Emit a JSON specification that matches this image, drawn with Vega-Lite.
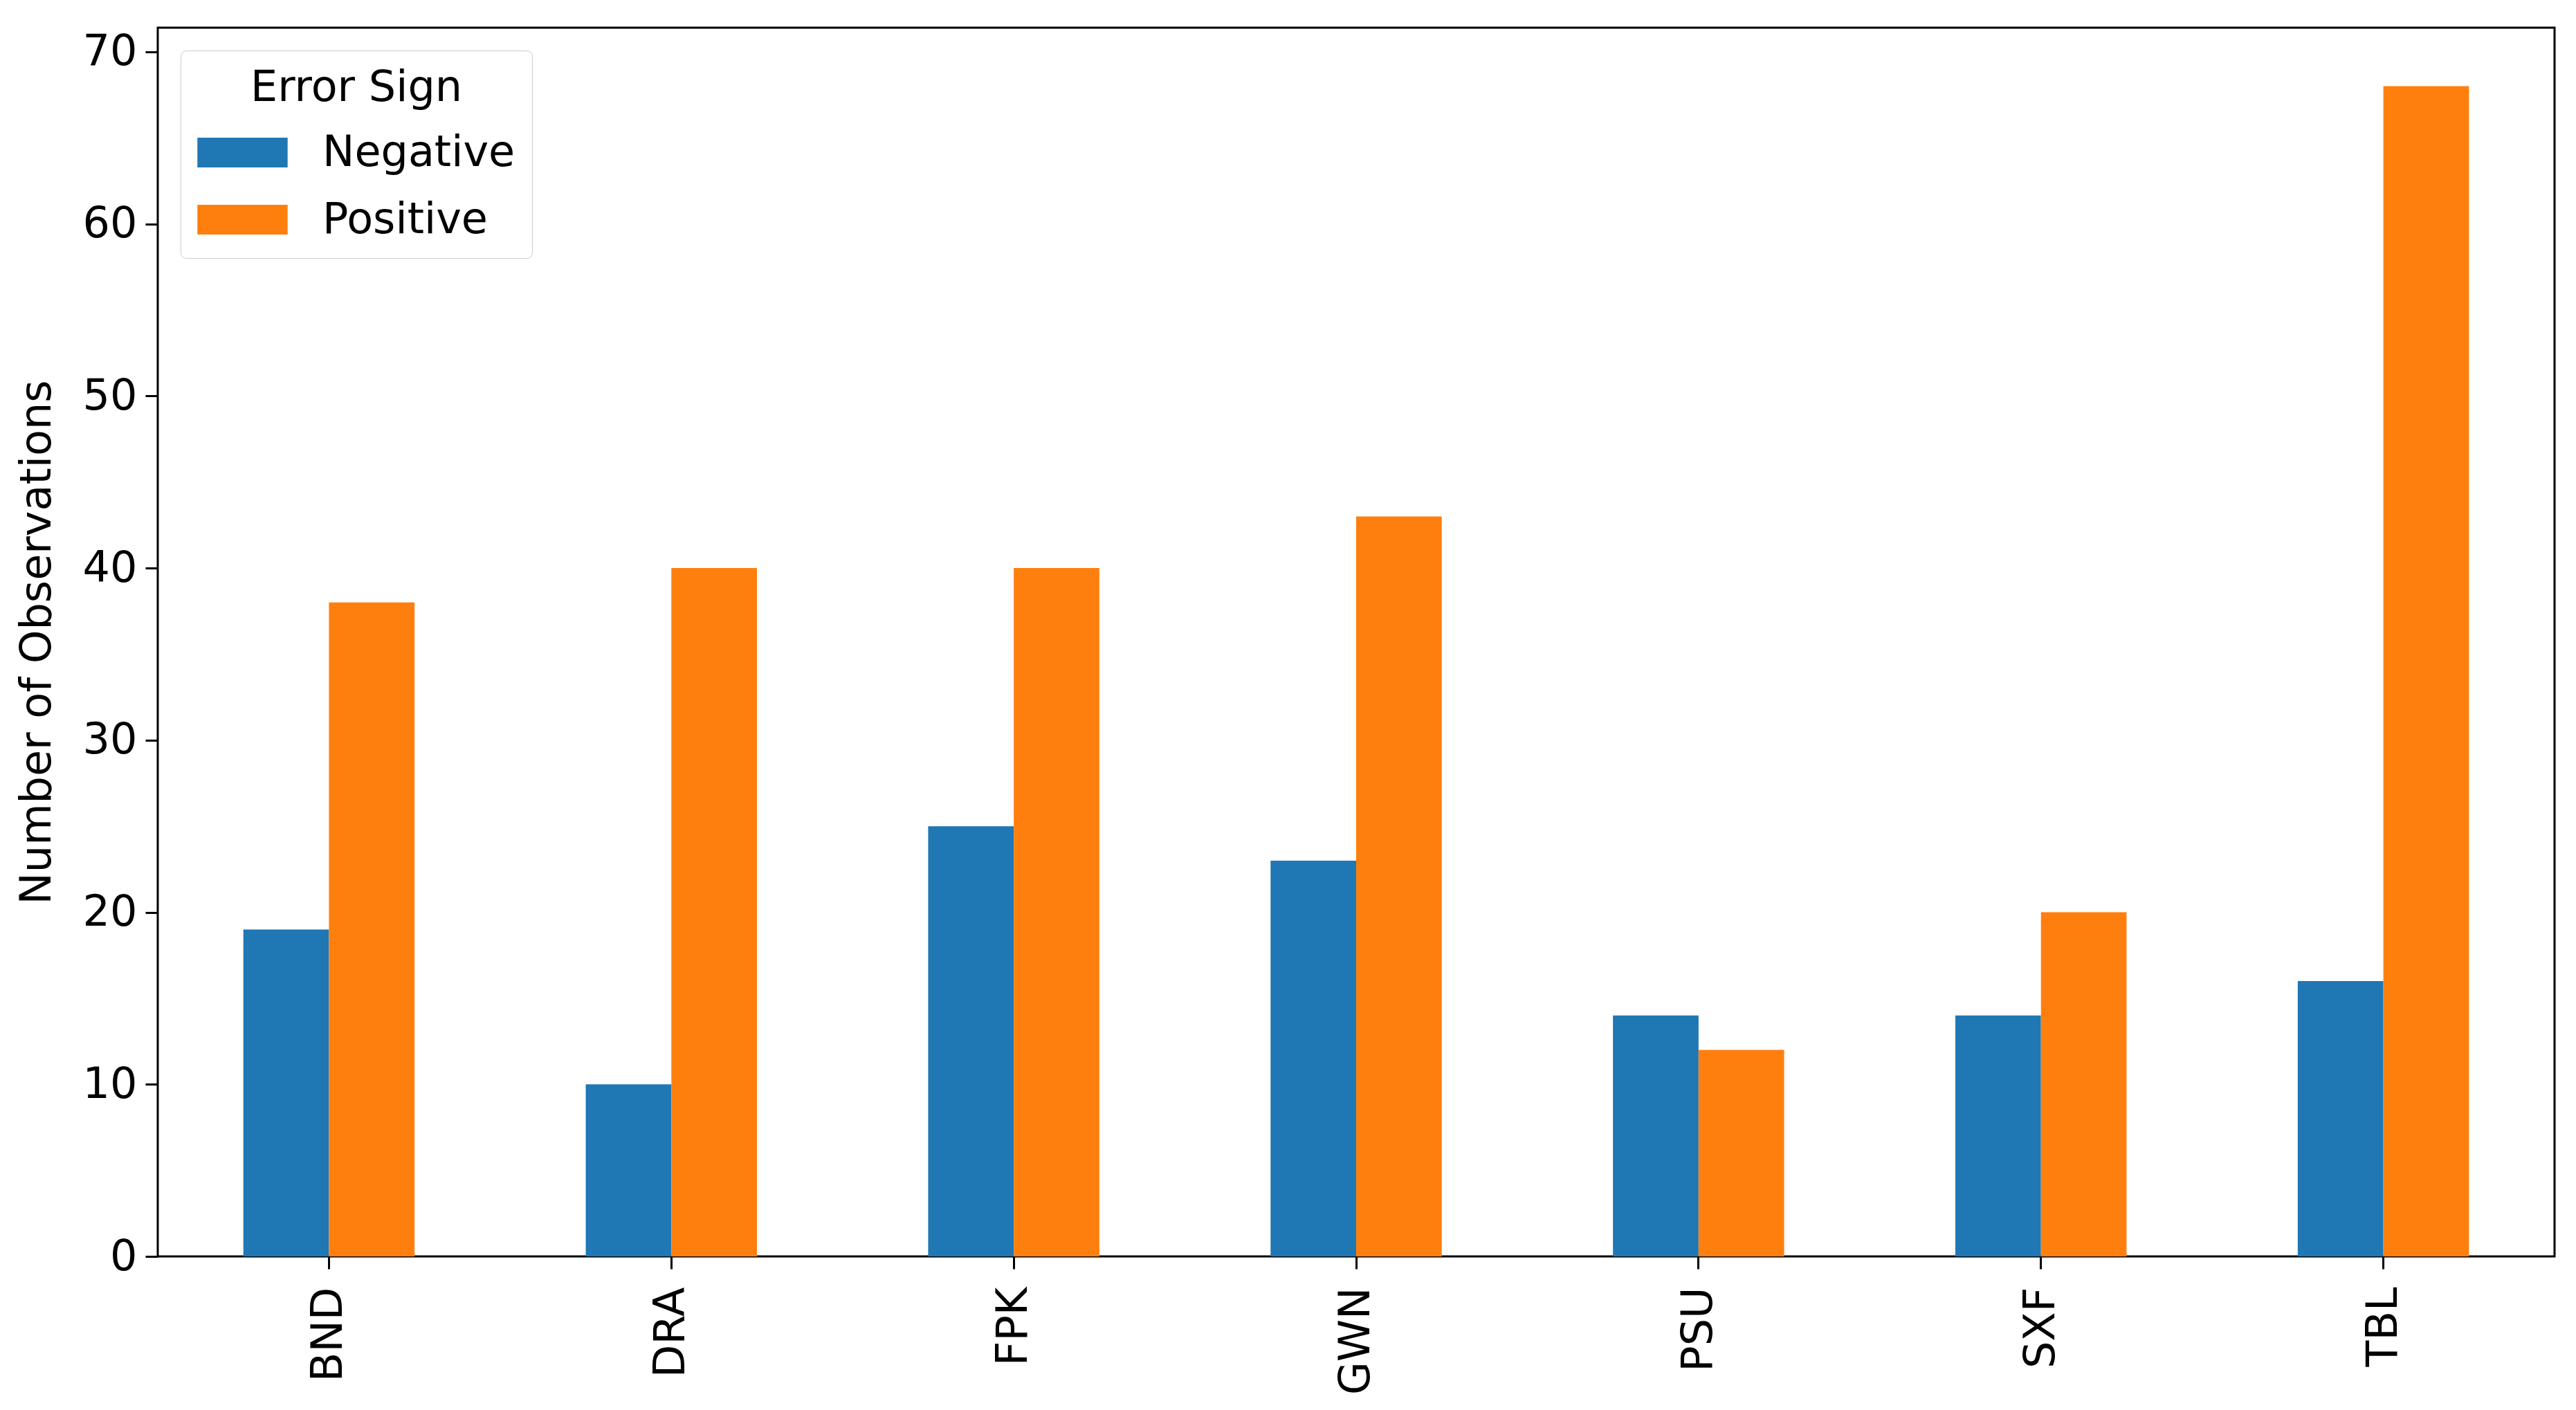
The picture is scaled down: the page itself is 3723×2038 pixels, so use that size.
{
  "$schema": "https://vega.github.io/schema/vega-lite/v6.json",
  "autosize": {"type": "none"},
  "width": 3464,
  "height": 1776,
  "padding": {"left": 228, "top": 40, "right": 31, "bottom": 222},
  "background": "white",
  "config": {
    "font": "DejaVu Sans",
    "view": {"stroke": "black", "strokeWidth": 3}
  },
  "data": {
    "values": [
      {"station": "BND", "sign": "Negative", "count": 19},
      {"station": "BND", "sign": "Positive", "count": 38},
      {"station": "DRA", "sign": "Negative", "count": 10},
      {"station": "DRA", "sign": "Positive", "count": 40},
      {"station": "FPK", "sign": "Negative", "count": 25},
      {"station": "FPK", "sign": "Positive", "count": 40},
      {"station": "GWN", "sign": "Negative", "count": 23},
      {"station": "GWN", "sign": "Positive", "count": 43},
      {"station": "PSU", "sign": "Negative", "count": 14},
      {"station": "PSU", "sign": "Positive", "count": 12},
      {"station": "SXF", "sign": "Negative", "count": 14},
      {"station": "SXF", "sign": "Positive", "count": 20},
      {"station": "TBL", "sign": "Negative", "count": 16},
      {"station": "TBL", "sign": "Positive", "count": 68}
    ]
  },
  "mark": {"type": "bar"},
  "encoding": {
    "x": {
      "field": "station",
      "type": "nominal",
      "scale": {"paddingInner": 0.5, "paddingOuter": 0.25},
      "axis": {
        "title": null,
        "labelAngle": 270,
        "labelAlign": "right",
        "labelBaseline": "middle",
        "labelFontSize": 62,
        "labelColor": "black",
        "labelPadding": 26,
        "tickSize": 18,
        "tickWidth": 3,
        "tickColor": "black",
        "domain": false,
        "grid": false
      }
    },
    "xOffset": {"field": "sign", "type": "nominal"},
    "y": {
      "field": "count",
      "type": "quantitative",
      "scale": {"domain": [0, 71.4], "nice": false},
      "axis": {
        "title": "Number of Observations",
        "titleFontSize": 62,
        "titleFontWeight": "normal",
        "titleColor": "black",
        "titlePadding": 34,
        "values": [0, 10, 20, 30, 40, 50, 60, 70],
        "labelFontSize": 62,
        "labelColor": "black",
        "labelPadding": 12,
        "tickSize": 18,
        "tickWidth": 3,
        "tickColor": "black",
        "domain": false,
        "grid": false
      }
    },
    "color": {
      "field": "sign",
      "type": "nominal",
      "scale": {"domain": ["Negative", "Positive"], "range": ["#1f77b4", "#ff7f0e"]},
      "legend": {
        "title": "Error Sign",
        "orient": "top-left",
        "offset": 33,
        "titleFontSize": 62,
        "titleFontWeight": "normal",
        "titleColor": "black",
        "titleAnchor": "middle",
        "titlePadding": -4,
        "titleLimit": 1000,
        "labelFontSize": 62,
        "labelColor": "black",
        "labelOffset": 50,
        "labelLimit": 1000,
        "symbolType": "M-1,-0.33H1V0.33H-1Z",
        "symbolSize": 17000,
        "symbolStrokeWidth": 0,
        "rowPadding": -42,
        "padding": 24,
        "strokeColor": "#cccccc",
        "cornerRadius": 8,
        "fillColor": "white"
      }
    }
  }
}
